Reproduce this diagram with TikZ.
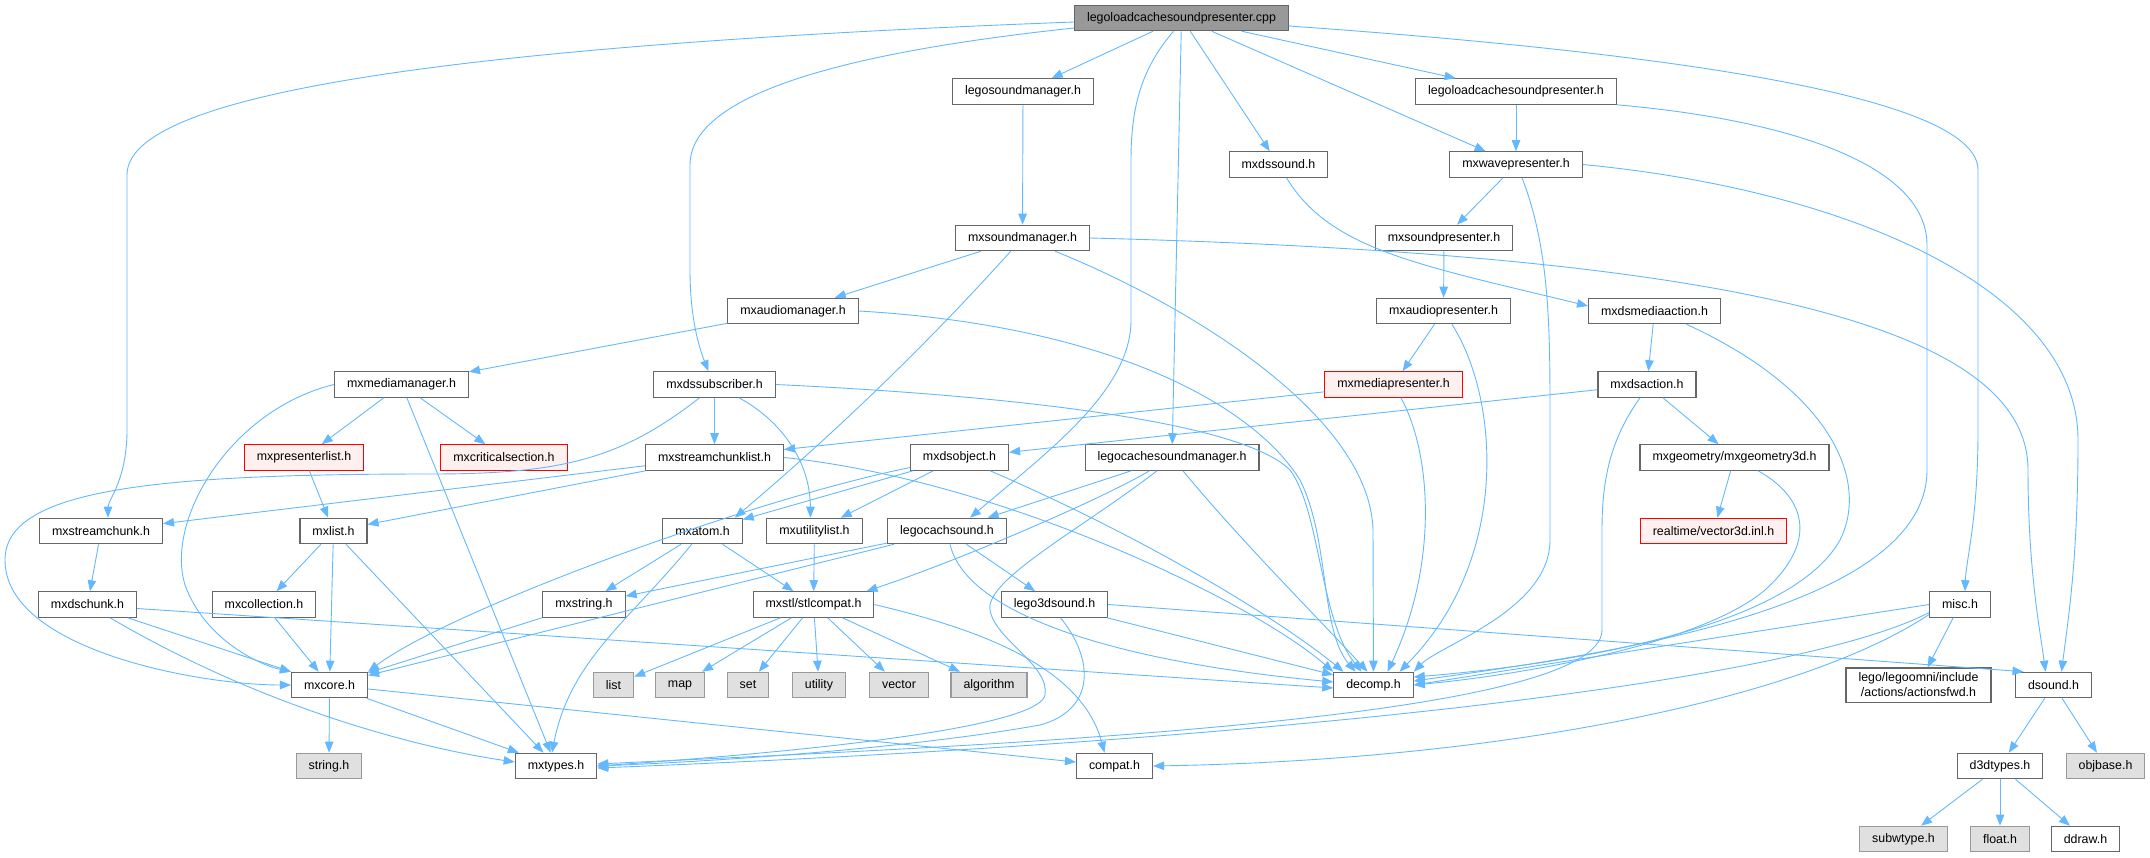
\documentclass[tikz,border=0pt]{standalone}
\usepackage{fontspec}
\setmainfont{Liberation Sans}
\usetikzlibrary{arrows.meta}

\definecolor{edgeblue}{HTML}{63B8FF}
\definecolor{boxline}{HTML}{666666}
\definecolor{rootfill}{HTML}{999999}
\definecolor{sysfill}{HTML}{E0E0E0}
\definecolor{sysline}{HTML}{999999}
\definecolor{cutline}{HTML}{FF0000}
\definecolor{cutfill}{HTML}{FFF0F0}

\tikzset{
  hdr/.style={draw=boxline, fill=white, line width=1.1pt, minimum height=25.5pt,
    inner xsep=12.5pt, inner ysep=0pt, text=black, font=\fontsize{12.4}{15}\selectfont},
  syshdr/.style={hdr, draw=sysline, fill=sysfill},
  cuthdr/.style={hdr, draw=cutline, fill=cutfill},
  srcfile/.style={hdr, fill=rootfill},
  inc/.style={draw=edgeblue, line width=0.9pt, -{Triangle[length=11pt,width=8.5pt]}}
}

\begin{document}
\begin{tikzpicture}[x=1pt,y=-1pt]
 \useasboundingbox (0,0) rectangle (2150,857);

% files, row by row
 \node[srcfile] (root) at (1181.5,18) {legoloadcachesoundpresenter.cpp};

 \node[hdr] (lsm) at (1023,91.5) {legosoundmanager.h};
 \node[hdr] (llcsph) at (1516,91.5) {legoloadcachesoundpresenter.h};

 \node[hdr] (dssound) at (1278.5,164.5) {mxdssound.h};
 \node[hdr] (wavepres) at (1516,164.5) {mxwavepresenter.h};

 \node[hdr] (soundmgr) at (1022.5,238) {mxsoundmanager.h};
 \node[hdr] (soundpres) at (1444,238) {mxsoundpresenter.h};

 \node[hdr] (audiomgr) at (793,311) {mxaudiomanager.h};
 \node[hdr] (audiopres) at (1443.5,311) {mxaudiopresenter.h};
 \node[hdr] (mediaaction) at (1654.5,311) {mxdsmediaaction.h};

 \node[hdr] (mediamgr) at (401.5,384.5) {mxmediamanager.h};
 \node[hdr] (subscriber) at (714.5,384.5) {mxdssubscriber.h};
 \node[cuthdr] (mediapres) at (1393.5,384.5) {mxmediapresenter.h};
 \node[hdr] (dsaction) at (1647,384.5) {mxdsaction.h};

 \node[cuthdr] (preslist) at (304,457.5) {mxpresenterlist.h};
 \node[cuthdr] (critsec) at (504,457.5) {mxcriticalsection.h};
 \node[hdr] (chunklist) at (714.5,457.5) {mxstreamchunklist.h};
 \node[hdr] (dsobject) at (959.5,457.5) {mxdsobject.h};
 \node[hdr] (lcsmgr) at (1172,457.5) {legocachesoundmanager.h};
 \node[hdr] (geom) at (1734.5,457.5) {mxgeometry/mxgeometry3d.h};

 \node[hdr] (streamchunk) at (101,531) {mxstreamchunk.h};
 \node[hdr] (mxlist) at (333.5,531) {mxlist.h};
 \node[hdr] (atom) at (702.5,531) {mxatom.h};
 \node[hdr] (utillist) at (814.5,531) {mxutilitylist.h};
 \node[hdr] (cachsound) at (947,531) {legocachsound.h};
 \node[cuthdr] (vec) at (1713.5,531) {realtime/vector3d.inl.h};

 \node[hdr] (dschunk) at (87.5,604.5) {mxdschunk.h};
 \node[hdr] (collection) at (264,604.5) {mxcollection.h};
 \node[hdr] (mxstring) at (584,604.5) {mxstring.h};
 \node[hdr] (stlcompat) at (813.5,604.5) {mxstl/stlcompat.h};
 \node[hdr] (lego3d) at (1054.5,604.5) {lego3dsound.h};
 \node[hdr] (misc) at (1960,604.5) {misc.h};

 \node[hdr] (core) at (329.5,685) {mxcore.h};
 \node[syshdr] (list) at (613.5,685) {list};
 \node[syshdr] (map) at (680,685) {map};
 \node[syshdr] (set) at (748,685) {set};
 \node[syshdr] (utility) at (819,685) {utility};
 \node[syshdr] (vector) at (899,685) {vector};
 \node[syshdr] (algorithm) at (989,685) {algorithm};
 \node[hdr] (decomp) at (1373.5,685) {decomp.h};
 \node[hdr, align=center, inner ysep=5pt] (actfwd) at (1918.5,685) {lego/legoomni/include\\/actions/actionsfwd.h};
 \node[hdr] (dsound) at (2053.5,685) {dsound.h};

 \node[syshdr] (stringh) at (329,766) {string.h};
 \node[hdr] (types) at (556,766) {mxtypes.h};
 \node[hdr] (compat) at (1114.5,766) {compat.h};
 \node[hdr] (d3d) at (2000,766) {d3dtypes.h};
 \node[syshdr] (objbase) at (2105.5,766) {objbase.h};

 \node[syshdr] (subw) at (1903.5,839) {subwtype.h};
 \node[syshdr] (floath) at (2000,839) {float.h};
 \node[hdr] (ddraw) at (2085.5,839) {ddraw.h};

% includes of the .cpp file
 \draw[inc] ([yshift=-4pt]root.west) .. controls (330,50) and (127,110) .. (127,175) -- (127,430) .. controls (127,480) and (108,500) .. ([xshift=7pt]streamchunk.north);
 \draw[inc] ([yshift=-10pt]root.west) .. controls (820,55) and (690,100) .. (690,165) -- (690,270) .. controls (690,320) and (700,350) .. ([xshift=-6pt]subscriber.north);
 \draw[inc] ([xshift=-8pt]root.south) .. controls (1140,70) and (1131,110) .. (1131,160) -- (1131,320) .. controls (1131,390) and (1050,450) .. ([xshift=23pt]cachsound.north);
 \draw[inc] (root) -- (lcsmgr);
 \draw[inc] (root) -- (lsm);
 \draw[inc] (root) -- (dssound);
 \draw[inc] (root) -- (wavepres);
 \draw[inc] (root) -- (llcsph);
 \draw[inc] ([yshift=-8pt]root.east) .. controls (1700,55) and (1978,100) .. (1978,170) -- (1978,430) .. controls (1978,520) and (1966,560) .. ([xshift=5pt]misc.north);

% upper half
 \draw[inc] (lsm) -- (soundmgr);
 \draw[inc] (llcsph) -- (wavepres);
 \draw[inc] (llcsph.south east) .. controls (1790,120) and (1927,165) .. (1927,245) -- (1927,470) .. controls (1927,610) and (1600,655) .. ([yshift=4pt]decomp.east);
 \draw[inc] (dssound) .. controls (1330,250) and (1420,265) .. ([yshift=5pt]mediaaction.west);
 \draw[inc] (wavepres) -- (soundpres);
 \draw[inc] ([xshift=6pt]wavepres.south) .. controls (1550,250) and (1550,330) .. (1550,420) -- (1550,540) .. controls (1550,610) and (1440,645) .. (decomp.north east);
 \draw[inc] (wavepres.east) .. controls (1850,190) and (2078,290) .. (2078,440) .. controls (2078,560) and (2068,620) .. ([xshift=8pt]dsound.north);
 \draw[inc] (soundmgr) -- (audiomgr);
 \draw[inc] (soundmgr) .. controls (940,330) and (850,420) .. ([xshift=-8pt]atom.north east);
 \draw[inc] (soundmgr) .. controls (1200,310) and (1370,420) .. (1373,530) -- (decomp);
 \draw[inc] (soundmgr.east) .. controls (1750,255) and (2028,330) .. (2028,470) .. controls (2028,570) and (2040,630) .. ([xshift=-8pt]dsound.north);
 \draw[inc] (soundpres) -- (audiopres);
 \draw[inc] (audiomgr) -- (mediamgr);
 \draw[inc] (audiomgr.east) .. controls (1100,325) and (1250,400) .. (1300,480) .. controls (1330,540) and (1320,630) .. ([xshift=-18pt]decomp.north);
 \draw[inc] (audiopres) -- (mediapres);
 \draw[inc] (audiopres) .. controls (1500,400) and (1510,560) .. ([xshift=26pt]decomp.north);
 \draw[inc] (mediaaction) -- (dsaction);
 \draw[inc] ([xshift=32pt]mediaaction.south) .. controls (1830,390) and (1870,480) .. (1840,540) .. controls (1790,630) and (1560,665) .. ([yshift=8pt]decomp.east);

% middle
 \draw[inc] (mediamgr) -- (preslist);
 \draw[inc] (mediamgr) -- (critsec);
 \draw[inc] (mediamgr) -- (types);
 \draw[inc] (mediamgr.west) .. controls (230,410) and (165,520) .. (185,585) .. controls (205,640) and (260,665) .. (core.north west);
 \draw[inc] (subscriber) -- (chunklist);
 \draw[inc] (subscriber) .. controls (780,420) and (810,460) .. ([xshift=-4pt]utillist.north);
 \draw[inc] (subscriber.east) .. controls (1000,395) and (1240,420) .. (1290,470) .. controls (1320,510) and (1320,620) .. ([xshift=-12pt]decomp.north);
 \draw[inc] ([xshift=-15pt]subscriber.south) .. controls (620,460) and (560,474) .. (430,474) .. controls (150,474) and (5,490) .. (5,560) .. controls (5,650) and (200,685) .. (core.west);
 \draw[inc] (mediapres) -- ([yshift=8pt]chunklist.east);
 \draw[inc] (mediapres) .. controls (1430,450) and (1440,560) .. ([xshift=14pt]decomp.north);
 \draw[inc] (dsaction) -- (dsobject);
 \draw[inc] (dsaction) -- (geom);
 \draw[inc] ([xshift=-7pt]dsaction.south) .. controls (1610,440) and (1602,480) .. (1602,530) -- (1602,630) .. controls (1602,720) and (1000,745) .. ([yshift=2pt]types.east);
 \draw[inc] (preslist) -- (mxlist);
 \draw[inc] (chunklist) -- (streamchunk);
 \draw[inc] (chunklist) -- (mxlist);
 \draw[inc] (chunklist.east) .. controls (1000,480) and (1250,600) .. (decomp.north west);
 \draw[inc] (dsobject) -- (atom);
 \draw[inc] (dsobject) -- (utillist);
 \draw[inc] (dsobject) .. controls (750,500) and (450,610) .. (core.north east);
 \draw[inc] (dsobject) .. controls (1150,540) and (1280,620) .. ([xshift=-30pt]decomp.north);
 \draw[inc] (lcsmgr) -- (cachsound);
 \draw[inc] (lcsmgr) .. controls (1100,500) and (960,560) .. ([xshift=-8pt]stlcompat.north east);
 \draw[inc] ([xshift=-15pt]lcsmgr.south) .. controls (1080,530) and (985,580) .. (990,610) .. controls (995,640) and (1050,665) .. (1045,695) .. controls (1040,720) and (900,745) .. (types.east);
 \draw[inc] (lcsmgr) .. controls (1240,540) and (1320,620) .. ([xshift=-6pt]decomp.north);
 \draw[inc] (geom) -- (vec);
 \draw[inc] (geom) .. controls (1810,500) and (1815,545) .. (1765,590) .. controls (1700,645) and (1520,675) .. (decomp.east);

% lower half
 \draw[inc] (streamchunk) -- (dschunk);
 \draw[inc] (mxlist) -- (collection);
 \draw[inc] (mxlist) -- (core);
 \draw[inc] (mxlist) -- (types);
 \draw[inc] (atom) -- (mxstring);
 \draw[inc] (atom) -- (stlcompat);
 \draw[inc] (atom) .. controls (630,620) and (570,660) .. ([xshift=-4pt]types.north);
 \draw[inc] (utillist) -- (stlcompat);
 \draw[inc] (cachsound) -- (mxstring);
 \draw[inc] (cachsound) -- (core);
 \draw[inc] (cachsound) -- (lego3d);
 \draw[inc] (cachsound) .. controls (965,610) and (1100,660) .. ([yshift=3pt]decomp.west);
 \draw[inc] (dschunk) -- (core.north west);
 \draw[inc] (dschunk) .. controls (250,700) and (400,745) .. ([yshift=4pt]types.west);
 \draw[inc] ([yshift=-4pt]dschunk.east) -- ([yshift=-3pt]decomp.west);
 \draw[inc] (collection) -- (core);
 \draw[inc] (mxstring) -- (core);
 \draw[inc] (stlcompat) -- (list);
 \draw[inc] (stlcompat) -- (map);
 \draw[inc] (stlcompat) -- (set);
 \draw[inc] (stlcompat) -- (utility);
 \draw[inc] (stlcompat) -- (vector);
 \draw[inc] (stlcompat) -- (algorithm);
 \draw[inc] (stlcompat.east) .. controls (960,625) and (1080,660) .. ([xshift=-10pt]compat.north);
 \draw[inc] (lego3d) -- (decomp);
 \draw[inc] (lego3d.east) -- ([xshift=-30pt]dsound.north);
 \draw[inc] ([xshift=6pt]lego3d.south) .. controls (1095,660) and (1095,710) .. (1040,725) .. controls (900,750) and (700,762) .. (types.east);
 \draw[inc] (misc.west) -- (decomp.east);
 \draw[inc] (misc) -- (actfwd);
 \draw[inc] ([yshift=-8pt]misc.west) .. controls (1800,680) and (1300,740) .. ([yshift=-2pt]types.east);
 \draw[inc] ([yshift=-10pt]misc.west) .. controls (1800,700) and (1500,760) .. (compat.east);
 \draw[inc] (core) -- (stringh);
 \draw[inc] (core) -- (types);
 \draw[inc] (core) -- (compat);
 \draw[inc] (dsound) -- (d3d);
 \draw[inc] (dsound) -- (objbase);
 \draw[inc] (d3d) -- (subw);
 \draw[inc] (d3d) -- (floath);
 \draw[inc] (d3d) -- (ddraw);

\end{tikzpicture}
\end{document}
